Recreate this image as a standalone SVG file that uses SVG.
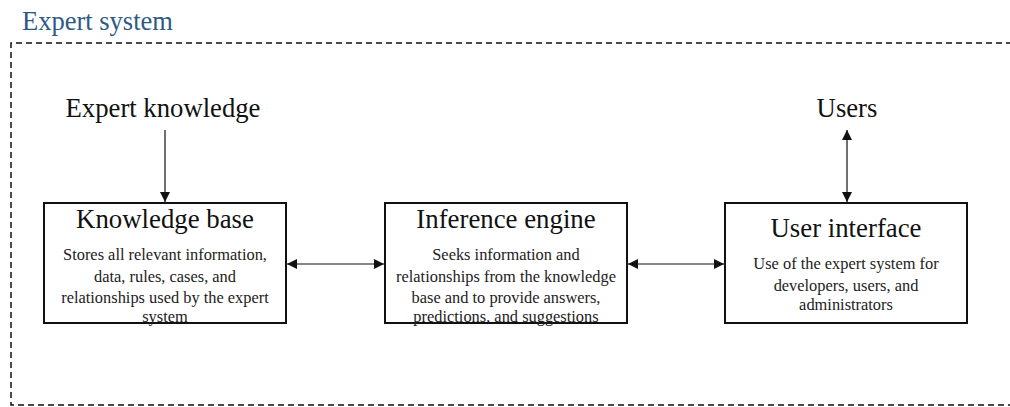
<svg xmlns="http://www.w3.org/2000/svg" width="1010" height="407" viewBox="0 0 1010 407">
  <style>
    .frame { fill: none; stroke: #111; stroke-width: 1.5; stroke-dasharray: 6 4; }
    .box { fill: #fff; stroke: #111; stroke-width: 2; }
    .link { fill: none; stroke: #111; stroke-width: 1.2; }
    .caption { font-family: "Liberation Serif", "DejaVu Serif", serif; font-size: 26.5px; fill: #2d5a85; }
    .label { font-family: "Liberation Serif", "DejaVu Serif", serif; font-size: 26.7px; fill: #111; text-anchor: middle; }
    .title { font-family: "Liberation Serif", "DejaVu Serif", serif; font-size: 26.8px; fill: #111; text-anchor: middle; }
    .body { font-family: "Liberation Serif", "DejaVu Serif", serif; font-size: 16.4px; fill: #222; text-anchor: middle; }
  </style>
  <defs>
    <marker id="arrow" viewBox="0 0 10 10" refX="10" refY="5" markerWidth="10" markerHeight="10" markerUnits="userSpaceOnUse" orient="auto-start-reverse">
      <path d="M0,0 L10,5 L0,10 z" fill="#111"/>
    </marker>
  </defs>
  <rect width="1010" height="407" fill="#fff"/>

  <!-- system boundary -->
  <g id="system-frame">
    <text class="caption" x="22" y="30">Expert system</text>
    <path class="frame" d="M1012,43 H11 V405 H1012"/>
  </g>

  <!-- external actors -->
  <g id="expert-knowledge">
    <text class="label" x="163" y="117">Expert knowledge</text>
  </g>
  <g id="users">
    <text class="label" x="847" y="117">Users</text>
  </g>

  <!-- components -->
  <g id="knowledge-base">
    <rect class="box" x="44" y="203" width="242" height="120"/>
    <text class="title" x="165" y="228">Knowledge base</text>
    <text class="body" x="165" y="260">Stores all relevant information,</text>
    <text class="body" x="165" y="282">data, rules, cases, and</text>
    <text class="body" x="165" y="303">relationships used by the expert</text>
    <text class="body" x="165" y="322">system</text>
  </g>
  <g id="inference-engine">
    <rect class="box" x="385" y="203" width="242" height="120"/>
    <text class="title" x="506" y="228">Inference engine</text>
    <text class="body" x="506" y="260">Seeks information and</text>
    <text class="body" x="506" y="282">relationships from the knowledge</text>
    <text class="body" x="506" y="303">base and to provide answers,</text>
    <text class="body" x="506" y="322">predictions, and suggestions</text>
  </g>
  <g id="user-interface">
    <rect class="box" x="725" y="203" width="242" height="120"/>
    <text class="title" x="846" y="237">User interface</text>
    <text class="body" x="846" y="269">Use of the expert system for</text>
    <text class="body" x="846" y="291">developers, users, and</text>
    <text class="body" x="846" y="310">administrators</text>
  </g>

  <!-- connectors -->
  <g id="connectors">
    <line class="link" x1="165" y1="130" x2="165" y2="202" marker-end="url(#arrow)"/>
    <line class="link" x1="287" y1="264" x2="384" y2="264" marker-start="url(#arrow)" marker-end="url(#arrow)"/>
    <line class="link" x1="628" y1="264" x2="724" y2="264" marker-start="url(#arrow)" marker-end="url(#arrow)"/>
    <line class="link" x1="847" y1="130" x2="847" y2="202" marker-start="url(#arrow)" marker-end="url(#arrow)"/>
  </g>
</svg>
